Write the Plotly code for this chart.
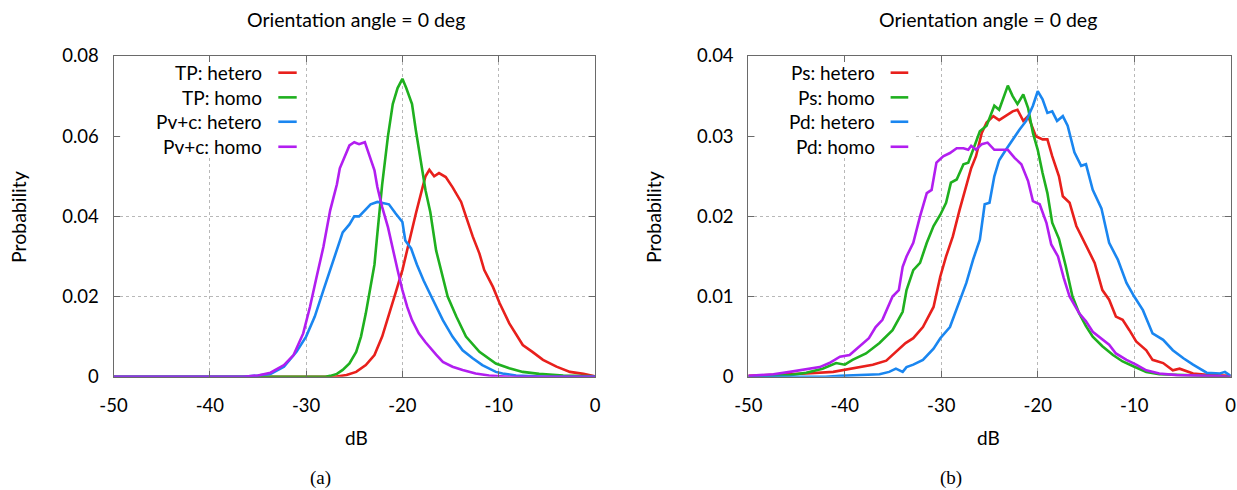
import plotly.graph_objects as go

# ---------------- data ----------------
# Panel (a)
tp_hetero_db = [-50, -27.0, -25.8, -24.8, -23.8, -22.9, -22.1, -21.4, -20.7, -20.0, -19.3, -18.6, -17.9, -17.6,
                -17.2, -16.7, -16.2, -15.5, -14.8, -13.9, -13.4, -12.7, -12.0, -11.5, -10.6, -9.9, -8.9, -7.8,
                -7.5, -6.5, -5.4, -4.0, -2.6, -1.2, -0.2, 0]
tp_hetero_p = [0, 0, 0.0004, 0.0012, 0.0029, 0.0054, 0.010, 0.0158, 0.021, 0.0266, 0.034, 0.0407, 0.0473, 0.050,
               0.0516, 0.050, 0.0508, 0.0498, 0.0473, 0.0436, 0.040, 0.035, 0.0307, 0.0266, 0.0224, 0.0183, 0.0133,
               0.0091, 0.0079, 0.0062, 0.0042, 0.0025, 0.0012, 0.0007, 0.0002, 0.0001]

tp_homo_db = [-50, -28.0, -27.5, -26.8, -26.2, -25.5, -24.8, -24.3, -23.8, -23.4, -22.9, -22.6, -22.1, -21.5, -21.0,
              -20.5, -20.0, -19.6, -19.0, -18.6, -18.1, -17.6, -17.1, -16.5, -15.3, -14.4, -13.4, -12.0, -10.3,
              -8.9, -7.5, -5.8, -3.3, 0]
tp_homo_p = [0, 0, 0.0002, 0.0007, 0.0017, 0.0033, 0.0062, 0.010, 0.0158, 0.0208, 0.028, 0.0357, 0.048, 0.060, 0.068,
             0.072, 0.0743, 0.072, 0.068, 0.0614, 0.054, 0.0465, 0.041, 0.0315, 0.020, 0.015, 0.010, 0.0062, 0.0033,
             0.0021, 0.0012, 0.0007, 0.0003, 0.0001]

pvc_hetero_db = [-50, -36.5, -35.0, -33.7, -32.3, -31.0, -30.0, -29.1, -28.2, -27.5, -26.8, -26.2, -25.5, -25.0,
                 -24.5, -23.8, -23.3, -22.6, -21.9, -21.4, -20.7, -20.0, -19.7, -19.1, -18.5, -17.8, -17.1, -16.5,
                 -15.8, -14.8, -13.75, -12.7, -11.7, -10.3, -9.6, -8.2, -6.8, -5.0, 0]
pvc_hetero_p = [0, 0, 0.0003, 0.0007, 0.0025, 0.0062, 0.010, 0.015, 0.0216, 0.0266, 0.0315, 0.036, 0.038, 0.040,
                0.040, 0.0417, 0.043, 0.0436, 0.0432, 0.043, 0.0407, 0.0386, 0.034, 0.032, 0.028, 0.024, 0.0205,
                0.0174, 0.0141, 0.010, 0.0066, 0.0046, 0.0029, 0.0012, 0.0008, 0.0003, 0.0001, 0, 0]

pvc_homo_db = [-50, -36.5, -35.0, -33.7, -32.3, -31.3, -30.3, -29.6, -28.9, -28.2, -27.5, -26.8, -26.5, -26.0,
               -25.5, -25.0, -24.5, -23.9, -23.4, -22.9, -22.6, -22.1, -21.5, -21.0, -20.5, -20.0, -19.5, -19.0,
               -18.3, -17.6, -17.0, -16.5, -15.8, -14.8, -13.75, -12.4, -11.0, -9.0, 0]
pvc_homo_p = [0, 0, 0.0003, 0.001, 0.0029, 0.0054, 0.0108, 0.0174, 0.025, 0.0324, 0.0415, 0.048, 0.052, 0.0548,
              0.0577, 0.0585, 0.058, 0.0585, 0.0548, 0.0515, 0.0473, 0.0423, 0.0373, 0.0315, 0.0266, 0.0216, 0.0174,
              0.0141, 0.0108, 0.0086, 0.0068, 0.0055, 0.0037, 0.0025, 0.0017, 0.0008, 0.0003, 0, 0]

# Panel (b)
ps_hetero_db = [-50, -47.4, -44.0, -41.2, -39.9, -38.5, -37.1, -35.7, -34.7, -33.7, -32.9, -31.9, -30.8, -30.1,
                -29.5, -28.8, -28.1, -27.4, -26.9, -26.4, -25.8, -25.3, -24.6, -24.0, -23.3, -22.6, -22.1, -21.5,
                -21.0, -20.2, -19.5, -19.0, -18.5, -17.8, -17.4, -16.7, -16.0, -15.0, -14.1, -13.3, -12.6, -11.9,
                -11.2, -10.5, -9.8, -8.75, -8.1, -7.0, -6.0, -5.3, -3.9, -2.2, 0]
ps_hetero_p = [0.0001, 0.0002, 0.0004, 0.0006, 0.0009, 0.0012, 0.0015, 0.002, 0.0031, 0.0042, 0.0048, 0.0062,
               0.0087, 0.0125, 0.015, 0.0175, 0.0208, 0.024, 0.026, 0.0275, 0.0304, 0.0317, 0.0325, 0.032, 0.0325,
               0.0331, 0.0333, 0.0319, 0.0325, 0.030, 0.0296, 0.0296, 0.0275, 0.0250, 0.0225, 0.0217, 0.0188,
               0.0163, 0.0142, 0.0108, 0.0096, 0.0075, 0.0071, 0.0058, 0.0044, 0.0033, 0.0021, 0.0017, 0.0008,
               0.001, 0.0004, 0.0002, 0.0001]

ps_homo_db = [-50, -45.7, -44.0, -42.3, -40.9, -40.0, -39.2, -37.8, -36.4, -35.05, -34.0, -33.6, -32.9, -32.2,
              -31.5, -30.8, -30.1, -29.5, -29.0, -28.4, -27.7, -27.2, -26.7, -26.0, -25.3, -24.5, -24.0, -23.1,
              -22.6, -22.1, -21.5, -21.0, -20.5, -20.0, -19.5, -19.0, -18.5, -17.8, -17.1, -16.4, -15.7, -15.0,
              -14.3, -13.3, -12.2, -11.2, -10.1, -8.75, -7.4, -5.6, -2.2, 0]
ps_homo_p = [0, 0.0002, 0.0005, 0.001, 0.0017, 0.0015, 0.0021, 0.0029, 0.0042, 0.0058, 0.0081, 0.0108, 0.0133,
             0.0142, 0.0167, 0.0188, 0.0202, 0.0217, 0.0242, 0.0246, 0.0265, 0.0267, 0.0283, 0.0306, 0.0313,
             0.0338, 0.0333, 0.0363, 0.035, 0.034, 0.0352, 0.0335, 0.0304, 0.0283, 0.0254, 0.0229, 0.0192, 0.0172,
             0.0138, 0.010, 0.0079, 0.0063, 0.005, 0.0038, 0.0027, 0.0019, 0.0013, 0.0006, 0.0003, 0.0002, 0.0001, 0]

pd_hetero_db = [-50, -42.0, -40.5, -37.8, -36.4, -35.4, -34.7, -34.0, -33.6, -32.9, -31.9, -30.8, -30.1, -29.1,
                -28.1, -27.4, -26.7, -26.0, -25.5, -25.0, -24.5, -24.0, -23.3, -22.6, -21.9, -21.2, -20.5, -20.0,
                -19.5, -19.0, -18.5, -18.0, -17.4, -16.9, -16.2, -15.5, -15.0, -14.3, -13.4, -12.6, -11.7, -10.8,
                -10.0, -9.1, -8.1, -7.0, -6.0, -4.9, -3.9, -2.5, -1.1, -0.6, 0]
pd_hetero_p = [0, 0, 0.0001, 0.0002, 0.0003, 0.0006, 0.001, 0.0006, 0.0012, 0.0015, 0.0021, 0.0035, 0.0048,
               0.0062, 0.0096, 0.0117, 0.0146, 0.0171, 0.0215, 0.0217, 0.025, 0.027, 0.0283, 0.0296, 0.0308,
               0.0319, 0.0338, 0.0356, 0.0346, 0.0329, 0.0331, 0.0319, 0.0325, 0.0313, 0.028, 0.0263, 0.0265,
               0.0233, 0.021, 0.0167, 0.0146, 0.0117, 0.010, 0.0083, 0.0054, 0.0046, 0.0033, 0.0023, 0.0015,
               0.0005, 0.0004, 0.0006, 0.0001]

pd_homo_db = [-50, -47.4, -45.7, -44.0, -42.6, -41.6, -40.5, -39.5, -38.5, -37.5, -36.8, -36.1, -35.05, -34.4,
              -34.0, -33.6, -32.9, -32.2, -31.5, -31.0, -30.5, -29.8, -29.1, -28.4, -27.7, -27.2, -26.9, -26.4,
              -25.8, -25.2, -24.5, -24.0, -23.1, -22.4, -21.7, -21.0, -20.5, -19.8, -19.1, -18.6, -17.9, -17.3,
              -16.7, -15.7, -15.0, -14.3, -13.3, -12.6, -11.9, -10.8, -9.8, -8.75, -7.4, -5.6, -2.2, 0]
pd_homo_p = [0.0001, 0.0003, 0.0006, 0.0009, 0.0012, 0.0017, 0.0025, 0.0027, 0.0037, 0.0048, 0.0062, 0.0071,
             0.010, 0.0108, 0.0137, 0.015, 0.0167, 0.020, 0.0229, 0.0233, 0.0267, 0.0275, 0.0279, 0.0285, 0.0285,
             0.0283, 0.0288, 0.0283, 0.029, 0.0292, 0.0283, 0.0283, 0.0283, 0.0273, 0.0265, 0.0244, 0.0219,
             0.0215, 0.0192, 0.0165, 0.015, 0.0123, 0.0100, 0.0079, 0.0069, 0.0056, 0.0046, 0.004, 0.0029,
             0.0021, 0.0015, 0.0008, 0.0004, 0.0002, 0.0001, 0]

x_tick_vals = [-50, -40, -30, -20, -10, 0]
x_tick_text = ["-50", "-40", "-30", "-20", "-10", "0"]
ya_tick_vals = [0, 0.02, 0.04, 0.06, 0.08]
ya_tick_text = ["0", "0.02", "0.04", "0.06", "0.08"]
yb_tick_vals = [0, 0.01, 0.02, 0.03, 0.04]
yb_tick_text = ["0", "0.01", "0.02", "0.03", "0.04"]

panel_title = "Orientation angle = 0 deg"
x_label = "dB"
y_label = "Probability"
panel_labels = ["(a)", "(b)"]

colors = ["#e8201c", "#1fb01f", "#1a86f0", "#b21ef0"]

series_a = [("TP: hetero", tp_hetero_db, tp_hetero_p),
            ("TP: homo", tp_homo_db, tp_homo_p),
            ("Pv+c: hetero", pvc_hetero_db, pvc_hetero_p),
            ("Pv+c: homo", pvc_homo_db, pvc_homo_p)]
series_b = [("Ps: hetero", ps_hetero_db, ps_hetero_p),
            ("Ps: homo", ps_homo_db, ps_homo_p),
            ("Pd: hetero", pd_hetero_db, pd_hetero_p),
            ("Pd: homo", pd_homo_db, pd_homo_p)]

# ---------------- figure ----------------
W, H = 1237, 490
FONT = "Lato, 'Open Sans', sans-serif"

fig = go.Figure()
for i, (name, xs, ys) in enumerate(series_a):
    fig.add_trace(go.Scatter(x=xs, y=ys, mode="lines", name=name, xaxis="x", yaxis="y",
                             line=dict(color=colors[i], width=2.6), showlegend=False))
for i, (name, xs, ys) in enumerate(series_b):
    fig.add_trace(go.Scatter(x=xs, y=ys, mode="lines", name=name, xaxis="x2", yaxis="y2",
                             line=dict(color=colors[i], width=2.6), showlegend=False))

# pixel geometry
ya_dom = [(H - 376.7) / H, (H - 56) / H]
xa_dom = [113.5 / W, 595 / W]
xb_dom = [748.3 / W, 1230.7 / W]

axis_common = dict(showline=True, linecolor="#6a6a6a", linewidth=1, mirror="ticks",
                   ticks="inside", ticklen=6, tickcolor="#6a6a6a", automargin=False,
                   showgrid=True, gridcolor="#b8b8b8", griddash="dot", gridwidth=1,
                   zeroline=False, tickfont=dict(family=FONT, size=18.5, color="black"))

fig.update_layout(
    template="none",
    width=W, height=H,
    margin=dict(l=0, r=0, t=0, b=0, autoexpand=False),
    paper_bgcolor="white", plot_bgcolor="white",
    font=dict(family=FONT, color="black"),
    xaxis=dict(domain=xa_dom, range=[-50, 0], tickvals=x_tick_vals, ticktext=x_tick_text,
               anchor="y", ticklabelstandoff=12, **axis_common),
    yaxis=dict(domain=ya_dom, range=[0, 0.08], tickvals=ya_tick_vals, ticktext=ya_tick_text,
               anchor="x", ticklabelstandoff=10, **axis_common),
    xaxis2=dict(domain=xb_dom, range=[-50, 0], tickvals=x_tick_vals, ticktext=x_tick_text,
                anchor="y2", ticklabelstandoff=12, **axis_common),
    yaxis2=dict(domain=ya_dom, range=[0, 0.04], tickvals=yb_tick_vals, ticktext=yb_tick_text,
                anchor="x2", ticklabelstandoff=10, **axis_common),
)

annotations = []
shapes = []

def px(x):
    return x / W

def py(y):
    return (H - y) / H

# titles, axis labels, panel labels
for cx in [356, 988]:
    annotations.append(dict(x=px(cx), y=py(19), xref="paper", yref="paper", text=panel_title,
                            showarrow=False, xanchor="center", yanchor="middle",
                            font=dict(family=FONT, size=19.5, color="black")))
    annotations.append(dict(x=px(cx), y=py(437), xref="paper", yref="paper", text=x_label,
                            showarrow=False, xanchor="center", yanchor="middle",
                            font=dict(family=FONT, size=19, color="black")))
for cx, lab in [(320, panel_labels[0]), (951, panel_labels[1])]:
    annotations.append(dict(x=px(cx), y=py(478), xref="paper", yref="paper", text=lab,
                            showarrow=False, xanchor="center", yanchor="middle",
                            font=dict(family="'Liberation Serif', 'Times New Roman', serif", size=19,
                                      color="black")))
for cx in [18, 653]:
    annotations.append(dict(x=px(cx), y=py(217), xref="paper", yref="paper", text=y_label,
                            showarrow=False, xanchor="center", yanchor="middle", textangle=-90,
                            font=dict(family=FONT, size=19.5, color="black")))

# gnuplot-style keys (text right-aligned, line sample to the right), opaque box
row_y = [0.948, 0.871, 0.795, 0.717]
for (xr, yr, series, text_r, s0, s1, box_r) in [
        ("x domain", "y domain", series_a, 0.3126, 0.3423, 0.3805, 0.394),
        ("x2 domain", "y2 domain", series_b, 0.266, 0.295, 0.3316, 0.344)]:
    shapes.append(dict(type="rect", xref=xr, yref=yr, x0=0.014, x1=box_r, y0=0.688, y1=0.981,
                       fillcolor="white", line=dict(width=0), layer="above"))
    for i, (name, _, _) in enumerate(series):
        annotations.append(dict(x=text_r, y=row_y[i], xref=xr, yref=yr, text=name, showarrow=False,
                                xanchor="right", yanchor="middle",
                                font=dict(family=FONT, size=19, color="black")))
        shapes.append(dict(type="line", xref=xr, yref=yr, x0=s0, x1=s1, y0=row_y[i], y1=row_y[i],
                           line=dict(color=colors[i], width=2.6), layer="above"))

fig.update_layout(annotations=annotations, shapes=shapes)

fig.write_html("out.html")
